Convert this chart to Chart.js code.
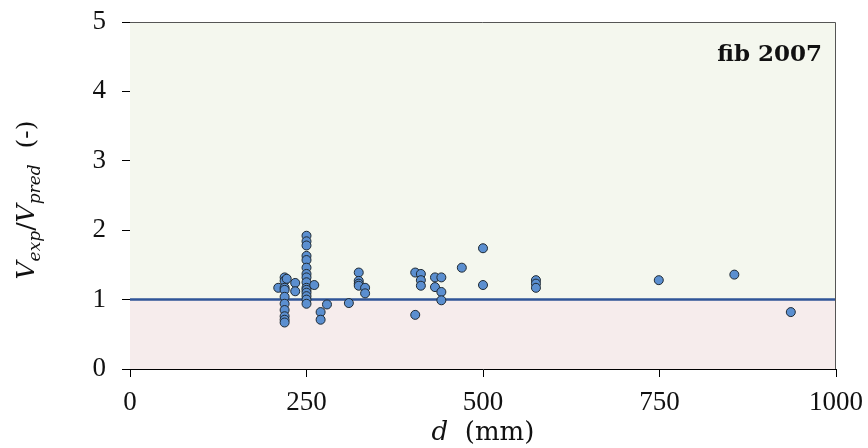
<!DOCTYPE html>
<html>
<head>
<meta charset="utf-8">
<script src="https://cdn.jsdelivr.net/npm/chart.js@4"></script>
<style>
  html, body { margin: 0; padding: 0; background: #fff; }
  #wrap { width: 868px; height: 448px; }
</style>
</head>
<body>
<div id="wrap"><canvas id="chart" width="868" height="448"></canvas></div>
<script>
// effective depth d (mm) and ratio Vexp/Vpred
const depths = [
  210, 219, 219, 219, 219, 219, 219, 219, 219, 219, 219, 222, 234, 234,
  250, 250, 250, 250, 250, 250, 250, 250, 250, 250, 250, 250, 250, 250, 250,
  261, 270, 270, 279, 310,
  324, 324, 324, 324, 333, 333,
  404, 404, 412, 412, 412, 432, 432, 441, 441, 441,
  470, 500, 500, 575, 575, 575, 749, 856, 936
];
const ratios = [
  1.17, 1.32, 1.27, 1.17, 1.14, 1.04, 0.94, 0.85, 0.76, 0.71, 0.67, 1.30, 1.24, 1.12,
  1.92, 1.84, 1.78, 1.63, 1.57, 1.46, 1.37, 1.32, 1.25, 1.17, 1.14, 1.10, 1.05, 1.00, 0.94,
  1.21, 0.82, 0.71, 0.93, 0.95,
  1.39, 1.27, 1.23, 1.20, 1.17, 1.09,
  1.39, 0.78, 1.37, 1.28, 1.20, 1.32, 1.18, 1.32, 1.11, 0.99,
  1.46, 1.74, 1.21, 1.28, 1.23, 1.17, 1.28, 1.36, 0.82
];
const xTicks = [0, 250, 500, 750, 1000];
const yTicks = [0, 1, 2, 3, 4, 5];
const limitLine = [{ x: 0, y: 1 }, { x: 1000, y: 1 }];
const modelName = 'fib 2007';

const points = depths.map((d, i) => ({ x: d, y: ratios[i] }));
const serif = '"Liberation Serif", serif';
const wide = '"DejaVu Serif", serif';

// light green above 1, light pink below, plus frame and titles
const decor = {
  id: 'decor',
  beforeDatasetsDraw(c) {
    const { ctx, chartArea: a, scales } = c;
    const y1 = scales.y.getPixelForValue(1);
    ctx.save();
    ctx.fillStyle = '#f4f7ee';
    ctx.fillRect(a.left, a.top, a.right - a.left, y1 - a.top);
    ctx.fillStyle = '#f6ecec';
    ctx.fillRect(a.left, y1, a.right - a.left, a.bottom - y1);
    ctx.restore();
  },
  afterDraw(c) {
    const { ctx, chartArea: a } = c;
    ctx.save();
    ctx.strokeStyle = '#555';
    ctx.lineWidth = 1;
    ctx.beginPath();
    ctx.moveTo(a.left, a.top + 0.5);
    ctx.lineTo(a.right - 0.5, a.top + 0.5);
    ctx.lineTo(a.right - 0.5, a.bottom);
    ctx.stroke();

    ctx.fillStyle = '#111';
    ctx.font = 'bold 23px ' + wide;
    ctx.textAlign = 'right';
    ctx.textBaseline = 'alphabetic';
    ctx.fillText(modelName, a.right - 14, 61);

    // x title: d (mm)
    ctx.textAlign = 'left';
    ctx.font = 'italic 26px ' + wide;
    const dW = ctx.measureText('d').width;
    ctx.font = '26px ' + wide;
    const mW = ctx.measureText('  (mm)').width;
    const x0 = (a.left + a.right) / 2 - (dW + mW) / 2;
    ctx.font = 'italic 26px ' + wide;
    ctx.fillText('d', x0, 440);
    ctx.font = '26px ' + wide;
    ctx.fillText('  (mm)', x0 + dW, 440);

    // y title: Vexp/Vpred (-)
    ctx.translate(34, 200);
    ctx.rotate(-Math.PI / 2);
    const parts = [
      ['V', 'italic 25px ', 0], ['exp', 'italic 17px ', 6], ['/', '25px ', 0],
      ['V', 'italic 25px ', 0], ['pred', 'italic 17px ', 6], ['  (-)', '25px ', 0]
    ];
    let total = 0;
    parts.forEach(p => { ctx.font = p[1] + wide; total += ctx.measureText(p[0]).width; });
    let px = -total / 2;
    parts.forEach(p => {
      ctx.font = p[1] + wide;
      ctx.fillText(p[0], px, p[2]);
      px += ctx.measureText(p[0]).width;
    });
    ctx.restore();
  }
};

new Chart(document.getElementById('chart'), {
  type: 'scatter',
  data: {
    datasets: [{
      label: 'tests',
      data: points,
      backgroundColor: '#5b8fd0',
      borderColor: '#1f2a33',
      borderWidth: 1,
      pointRadius: 4.5,
      order: 1
    }, {
      type: 'line',
      label: 'Vexp/Vpred = 1',
      data: limitLine,
      borderColor: '#2f5597',
      borderWidth: 2.5,
      pointRadius: 0,
      order: 2
    }]
  },
  options: {
    responsive: false,
    animation: false,
    layout: { padding: { top: 22, right: 32, left: 0, bottom: 0 } },
    plugins: { legend: { display: false }, tooltip: { enabled: false } },
    scales: {
      x: {
        type: 'linear', min: 0, max: 1000,
        afterBuildTicks: s => { s.ticks = xTicks.map(v => ({ value: v })); },
        afterFit: s => { s.height = 79; s.paddingRight = 0; s.paddingLeft = 0; },
        border: { color: '#000', width: 1 },
        grid: { drawOnChartArea: false, tickLength: 8, color: '#000' },
        ticks: { color: '#111', font: { family: serif, size: 27 }, padding: 10, maxRotation: 0,
                 callback: v => String(v) }
      },
      y: {
        type: 'linear', min: 0, max: 5,
        afterBuildTicks: s => { s.ticks = yTicks.map(v => ({ value: v })); },
        afterFit: s => { s.width = 130; s.paddingTop = 0; s.paddingBottom = 0; },
        border: { color: '#000', width: 1 },
        grid: { drawOnChartArea: false, tickLength: 8, color: '#000' },
        ticks: { color: '#111', font: { family: serif, size: 27 }, padding: 16 }
      }
    }
  },
  plugins: [decor]
});
</script>
</body>
</html>
